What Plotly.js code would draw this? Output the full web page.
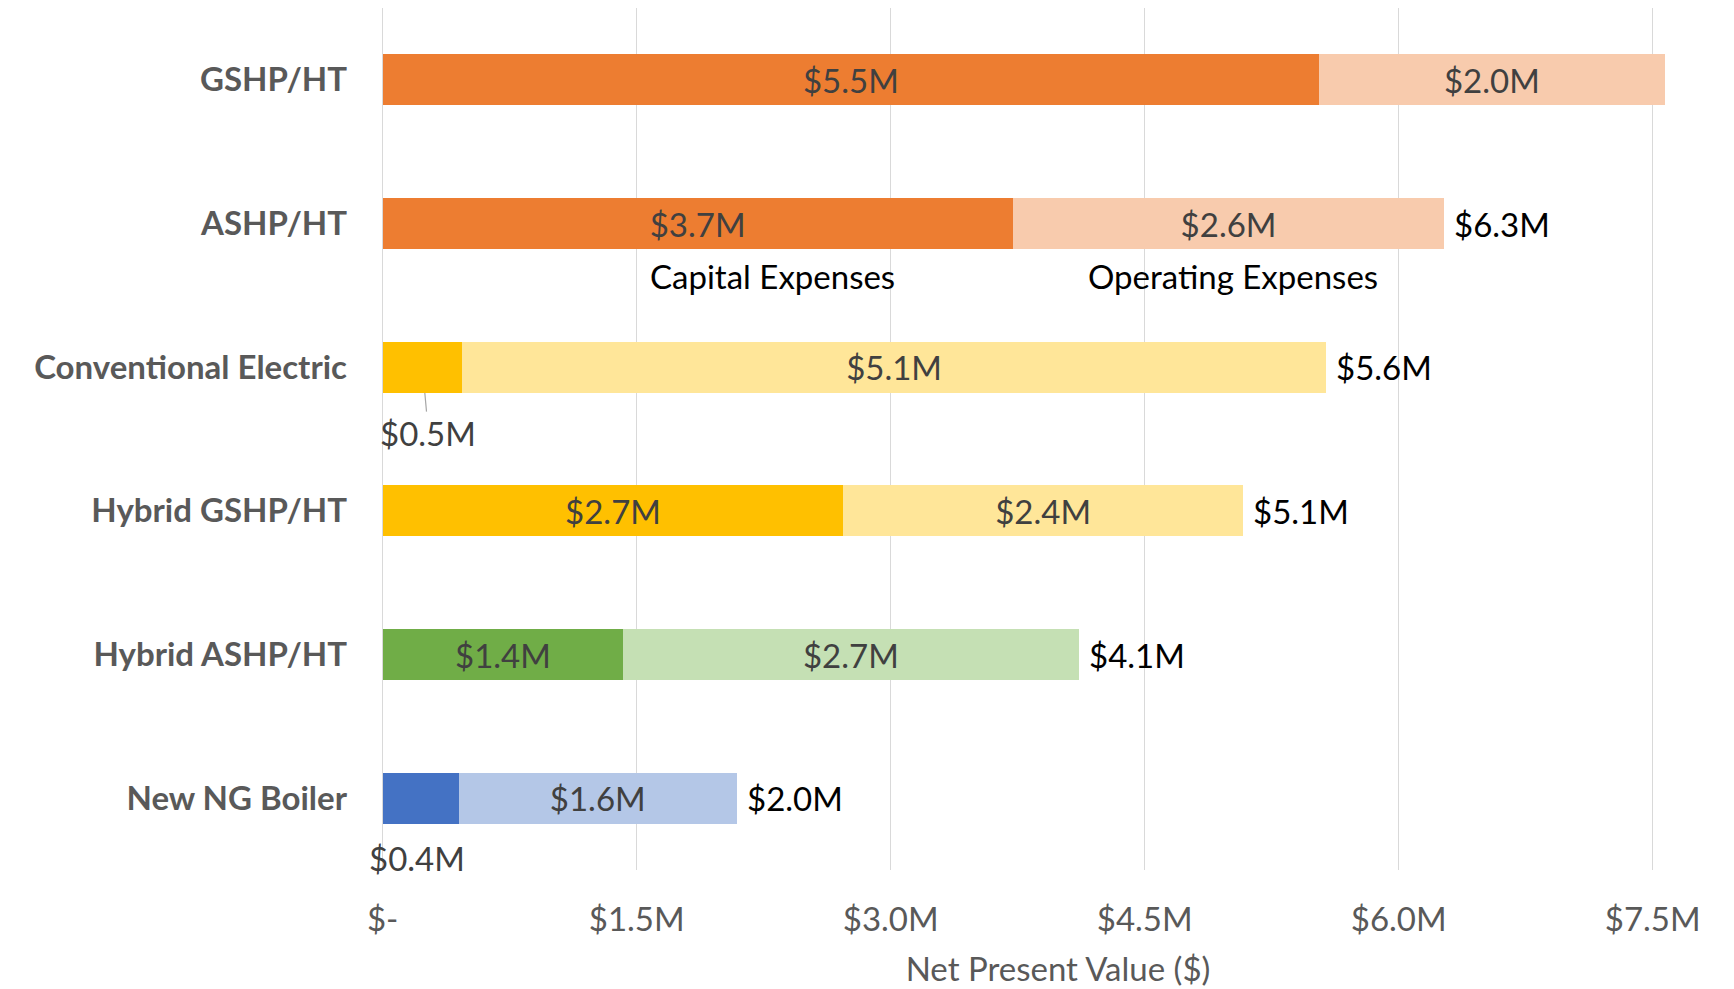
<!DOCTYPE html>
<html>
<head>
<meta charset="utf-8">
<script src="https://cdn.plot.ly/plotly-3.0.1.min.js"></script>
<style>html,body{margin:0;padding:0;background:#fff;}#chart{width:1734px;height:989px;}</style>
</head>
<body>
<div id="chart"></div>
<script>
// Data (values in $ millions), top to bottom
var categories = ['GSHP/HT', 'ASHP/HT', 'Conventional Electric', 'Hybrid GSHP/HT', 'Hybrid ASHP/HT', 'New NG Boiler'];
var capitalExpenses = [5.53, 3.72, 0.47, 2.72, 1.42, 0.45];
var operatingExpenses = [2.04, 2.55, 5.10, 2.36, 2.69, 1.64];
var capitalLabels = ['$5.5M', '$3.7M', '$0.5M', '$2.7M', '$1.4M', '$0.4M'];
var operatingLabels = ['$2.0M', '$2.6M', '$5.1M', '$2.4M', '$2.7M', '$1.6M'];
var totalLabels = ['', '$6.3M', '$5.6M', '$5.1M', '$4.1M', '$2.0M'];
var tickValues = [0, 1.5, 3.0, 4.5, 6.0, 7.5];
var tickLabels = ['$-', '$1.5M', '$3.0M', '$4.5M', '$6.0M', '$7.5M'];
var capitalColors = ['#ED7D31', '#ED7D31', '#FFC000', '#FFC000', '#70AD47', '#4472C4'];
var operatingColors = ['#F8CBAD', '#F8CBAD', '#FFE699', '#FFE699', '#C5E0B4', '#B4C7E7'];

var FONT = 'Lato, "Open Sans", sans-serif';
var FS = 33;
var LABEL_GREY = '#404040';

// small capital bars get their label below the bar
var smallLimit = 0.6;
var capInside = capitalLabels.map(function (t, i) { return capitalExpenses[i] < smallLimit ? '' : t; });

var traces = [
  {
    type: 'bar', orientation: 'h', name: 'Capital Expenses',
    y: categories, x: capitalExpenses,
    marker: { color: capitalColors, line: { width: 0 } },
    text: capInside, textposition: 'inside', insidetextanchor: 'middle',
    constraintext: 'none',
    textfont: { family: FONT, size: FS, color: LABEL_GREY },
    hoverinfo: 'skip'
  },
  {
    type: 'bar', orientation: 'h', name: 'Operating Expenses',
    y: categories, x: operatingExpenses,
    marker: { color: operatingColors, line: { width: 0 } },
    text: operatingLabels, textposition: 'inside', insidetextanchor: 'middle',
    constraintext: 'none',
    textfont: { family: FONT, size: FS, color: LABEL_GREY },
    hoverinfo: 'skip'
  }
];

var annotations = [];
// total labels at the end of each stacked bar
categories.forEach(function (c, i) {
  if (!totalLabels[i]) return;
  annotations.push({
    x: capitalExpenses[i] + operatingExpenses[i], y: c, xref: 'x', yref: 'y',
    text: totalLabels[i], showarrow: false, xanchor: 'left', xshift: 8,
    font: { family: FONT, size: FS, color: '#000000' }
  });
});
// labels for capital segments that are too small to hold text
categories.forEach(function (c, i) {
  if (capitalExpenses[i] >= smallLimit) return;
  if (i === 2) {
    annotations.push({
      x: capitalExpenses[i] / 2, y: c, xref: 'x', yref: 'y',
      text: capitalLabels[i], showarrow: true, arrowhead: 0, arrowwidth: 1.2,
      arrowcolor: '#A6A6A6', ax: 6, ay: 66, standoff: 26,
      font: { family: FONT, size: FS, color: LABEL_GREY }
    });
  } else {
    annotations.push({
      x: capitalExpenses[i] / 2, y: c, xref: 'x', yref: 'y',
      text: capitalLabels[i], showarrow: false, yshift: -60, xshift: -4,
      font: { family: FONT, size: FS, color: LABEL_GREY }
    });
  }
});
// series name labels
annotations.push({
  x: 2.30, y: categories[1], xref: 'x', yref: 'y', yshift: -52,
  text: 'Capital Expenses', showarrow: false,
  font: { family: FONT, size: FS, color: '#000000' }
});
annotations.push({
  x: 5.02, y: categories[1], xref: 'x', yref: 'y', yshift: -52,
  text: 'Operating Expenses', showarrow: false,
  font: { family: FONT, size: FS, color: '#000000' }
});

var layout = {
  width: 1734, height: 989,
  margin: { l: 382, r: 0, t: 8, b: 119, pad: 0 },
  paper_bgcolor: '#ffffff', plot_bgcolor: '#ffffff',
  barmode: 'stack', bargap: 0.645,
  showlegend: false,
  font: { family: FONT, size: FS, color: '#595959' },
  xaxis: {
    range: [-0.004, 7.98],
    tickmode: 'array', tickvals: tickValues, ticktext: tickLabels,
    showgrid: true, gridcolor: '#D9D9D9', gridwidth: 1.5,
    zeroline: true, zerolinecolor: '#D9D9D9', zerolinewidth: 1.5,
    showline: false, ticks: '',
    ticklabelstandoff: 27,
    tickfont: { family: FONT, size: FS, color: '#595959' },
    title: { text: 'Net Present Value ($)', standoff: 20, font: { family: FONT, size: FS, color: '#595959' } },
    fixedrange: true
  },
  yaxis: {
    type: 'category', autorange: 'reversed',
    showgrid: false, zeroline: false, showline: false, ticks: '',
    ticklabelstandoff: 34,
    tickfont: { family: FONT, size: FS, color: '#595959', weight: 'bold' },
    fixedrange: true
  },
  annotations: annotations
};

Plotly.newPlot('chart', traces, layout, { displayModeBar: false, staticPlot: true });
</script>
</body>
</html>
